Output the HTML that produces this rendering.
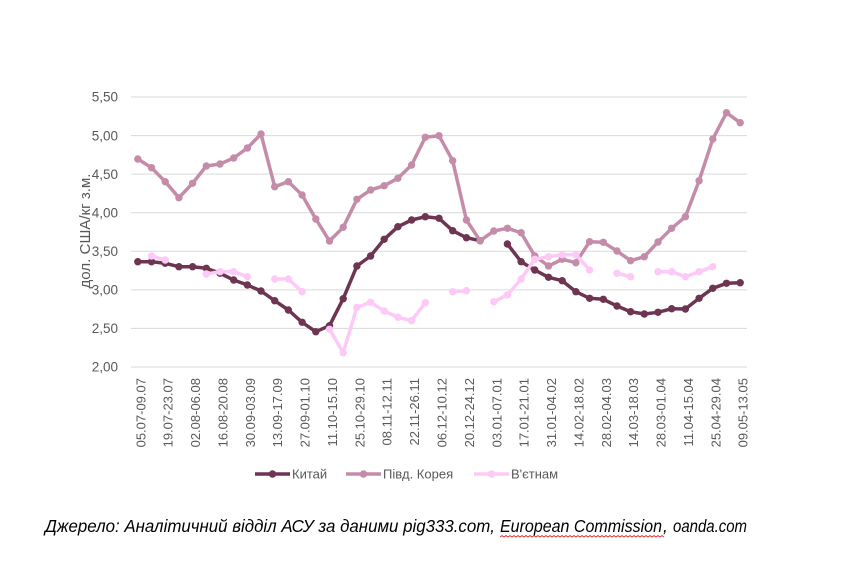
<!DOCTYPE html>
<html><head><meta charset="utf-8"><style>
html,body{margin:0;padding:0;background:#fff;}
svg{display:block;}
</style></head><body>
<svg width="842" height="584" viewBox="0 0 842 584" xmlns="http://www.w3.org/2000/svg">
<rect width="842" height="584" fill="#fff"/>
<g stroke="#d9d9d9" stroke-width="1">
<line x1="131" y1="97" x2="747" y2="97"/>
<line x1="131" y1="135.6" x2="747" y2="135.6"/>
<line x1="131" y1="174.1" x2="747" y2="174.1"/>
<line x1="131" y1="212.7" x2="747" y2="212.7"/>
<line x1="131" y1="251.3" x2="747" y2="251.3"/>
<line x1="131" y1="289.9" x2="747" y2="289.9"/>
<line x1="131" y1="328.4" x2="747" y2="328.4"/>
<line x1="131" y1="367" x2="747" y2="367"/>
</g>
<g font-family="Liberation Sans, sans-serif" font-size="13.5" fill="#595959" text-anchor="end">
<text x="118" y="101.7">5,50</text>
<text x="118" y="140.3">5,00</text>
<text x="118" y="178.8">4,50</text>
<text x="118" y="217.4">4,00</text>
<text x="118" y="256">3,50</text>
<text x="118" y="294.6">3,00</text>
<text x="118" y="333.1">2,50</text>
<text x="118" y="371.7">2,00</text>
</g>
<text transform="translate(90,231) rotate(-90)" font-family="Liberation Sans, sans-serif" font-size="15" fill="#595959" text-anchor="middle" textLength="115" lengthAdjust="spacingAndGlyphs">дол. США/кг з.м.</text>
<g font-family="Liberation Sans, sans-serif" font-size="13" fill="#595959" text-anchor="end">
<text transform="translate(145.3,378) rotate(-90)">05.07-09.07</text>
<text transform="translate(172.7,378) rotate(-90)">19.07-23.07</text>
<text transform="translate(200.1,378) rotate(-90)">02.08-06.08</text>
<text transform="translate(227.5,378) rotate(-90)">16.08-20.08</text>
<text transform="translate(254.9,378) rotate(-90)">30.09-03.09</text>
<text transform="translate(282.2,378) rotate(-90)">13.09-17.09</text>
<text transform="translate(309.6,378) rotate(-90)">27.09-01.10</text>
<text transform="translate(337,378) rotate(-90)">11.10-15.10</text>
<text transform="translate(364.4,378) rotate(-90)">25.10-29.10</text>
<text transform="translate(391.7,378) rotate(-90)">08.11-12.11</text>
<text transform="translate(419.1,378) rotate(-90)">22.11-26.11</text>
<text transform="translate(446.5,378) rotate(-90)">06.12-10.12</text>
<text transform="translate(473.9,378) rotate(-90)">20.12-24.12</text>
<text transform="translate(501.3,378) rotate(-90)">03.01-07.01</text>
<text transform="translate(528.6,378) rotate(-90)">17.01-21.01</text>
<text transform="translate(556,378) rotate(-90)">31.01-04.02</text>
<text transform="translate(583.4,378) rotate(-90)">14.02-18.02</text>
<text transform="translate(610.8,378) rotate(-90)">28.02-04.03</text>
<text transform="translate(638.1,378) rotate(-90)">14.03-18.03</text>
<text transform="translate(665.5,378) rotate(-90)">28.03-01.04</text>
<text transform="translate(692.9,378) rotate(-90)">11.04-15.04</text>
<text transform="translate(720.3,378) rotate(-90)">25.04-29.04</text>
<text transform="translate(747.7,378) rotate(-90)">09.05-13.05</text>
</g>

<!-- China -->
<g stroke="#6d3552" stroke-width="3.5" fill="none" stroke-linejoin="round" stroke-linecap="round">
<polyline points="137.8,261.7 151.5,261.7 165.2,263.3 178.9,266.7 192.6,266.7 206.3,268.3 220,273.3 233.7,280 247.4,285 261,291 274.7,300.7 288.4,310 302.1,322.3 315.8,331.7 329.5,325.7 343.2,298.7 356.9,266 370.6,256 384.2,239.3 397.9,226.7 411.6,220 425.3,216.7 439,218.3 452.7,230.7 466.4,237.7 480.1,240.7"/>
<polyline points="507.4,244 521.1,261.7 534.8,270 548.5,277.3 562.2,280.7 575.9,291.7 589.6,298.3 603.3,299.3 617,306 630.6,311.7 644.3,314 658,312.3 671.7,308.7 685.4,309 699.1,298.3 712.8,288.3 726.5,283.3 740.2,282.7"/>
</g>
<g fill="#6d3552">
<circle cx="137.8" cy="261.7" r="3.7"/><circle cx="151.5" cy="261.7" r="3.7"/><circle cx="165.2" cy="263.3" r="3.7"/><circle cx="178.9" cy="266.7" r="3.7"/><circle cx="192.6" cy="266.7" r="3.7"/><circle cx="206.3" cy="268.3" r="3.7"/><circle cx="220" cy="273.3" r="3.7"/><circle cx="233.7" cy="280" r="3.7"/><circle cx="247.4" cy="285" r="3.7"/><circle cx="261" cy="291" r="3.7"/><circle cx="274.7" cy="300.7" r="3.7"/><circle cx="288.4" cy="310" r="3.7"/><circle cx="302.1" cy="322.3" r="3.7"/><circle cx="315.8" cy="331.7" r="3.7"/><circle cx="329.5" cy="325.7" r="3.7"/><circle cx="343.2" cy="298.7" r="3.7"/><circle cx="356.9" cy="266" r="3.7"/><circle cx="370.6" cy="256" r="3.7"/><circle cx="384.2" cy="239.3" r="3.7"/><circle cx="397.9" cy="226.7" r="3.7"/><circle cx="411.6" cy="220" r="3.7"/><circle cx="425.3" cy="216.7" r="3.7"/><circle cx="439" cy="218.3" r="3.7"/><circle cx="452.7" cy="230.7" r="3.7"/><circle cx="466.4" cy="237.7" r="3.7"/><circle cx="480.1" cy="240.7" r="3.7"/>
<circle cx="507.4" cy="244" r="3.7"/><circle cx="521.1" cy="261.7" r="3.7"/><circle cx="534.8" cy="270" r="3.7"/><circle cx="548.5" cy="277.3" r="3.7"/><circle cx="562.2" cy="280.7" r="3.7"/><circle cx="575.9" cy="291.7" r="3.7"/><circle cx="589.6" cy="298.3" r="3.7"/><circle cx="603.3" cy="299.3" r="3.7"/><circle cx="617" cy="306" r="3.7"/><circle cx="630.6" cy="311.7" r="3.7"/><circle cx="644.3" cy="314" r="3.7"/><circle cx="658" cy="312.3" r="3.7"/><circle cx="671.7" cy="308.7" r="3.7"/><circle cx="685.4" cy="309" r="3.7"/><circle cx="699.1" cy="298.3" r="3.7"/><circle cx="712.8" cy="288.3" r="3.7"/><circle cx="726.5" cy="283.3" r="3.7"/><circle cx="740.2" cy="282.7" r="3.7"/>
</g>

<!-- Korea -->
<g stroke="#c58ca9" stroke-width="3.5" fill="none" stroke-linejoin="round" stroke-linecap="round">
<polyline points="137.8,159 151.5,167.7 165.2,181.7 178.9,197.7 192.6,183.3 206.3,166 220,164 233.7,158 247.4,148 261,134 274.7,186.7 288.4,181.7 302.1,195 315.8,219 329.5,241 343.2,227.3 356.9,199.3 370.6,190 384.2,185.7 397.9,178.3 411.6,165 425.3,137.3 439,135.7 452.7,160.7 466.4,220 480.1,240.7 493.8,231 507.4,228.3 521.1,232.7 534.8,256 548.5,266 562.2,259.3 575.9,262.7 589.6,241.7 603.3,242.3 617,251 630.6,260.7 644.3,256.7 658,242 671.7,228.3 685.4,216.7 699.1,180.7 712.8,139 726.5,112.7 740.2,122.7"/>
</g>
<g fill="#c58ca9">
<circle cx="137.8" cy="159" r="3.7"/><circle cx="151.5" cy="167.7" r="3.7"/><circle cx="165.2" cy="181.7" r="3.7"/><circle cx="178.9" cy="197.7" r="3.7"/><circle cx="192.6" cy="183.3" r="3.7"/><circle cx="206.3" cy="166" r="3.7"/><circle cx="220" cy="164" r="3.7"/><circle cx="233.7" cy="158" r="3.7"/><circle cx="247.4" cy="148" r="3.7"/><circle cx="261" cy="134" r="3.7"/><circle cx="274.7" cy="186.7" r="3.7"/><circle cx="288.4" cy="181.7" r="3.7"/><circle cx="302.1" cy="195" r="3.7"/><circle cx="315.8" cy="219" r="3.7"/><circle cx="329.5" cy="241" r="3.7"/><circle cx="343.2" cy="227.3" r="3.7"/><circle cx="356.9" cy="199.3" r="3.7"/><circle cx="370.6" cy="190" r="3.7"/><circle cx="384.2" cy="185.7" r="3.7"/><circle cx="397.9" cy="178.3" r="3.7"/><circle cx="411.6" cy="165" r="3.7"/><circle cx="425.3" cy="137.3" r="3.7"/><circle cx="439" cy="135.7" r="3.7"/><circle cx="452.7" cy="160.7" r="3.7"/><circle cx="466.4" cy="220" r="3.7"/><circle cx="480.1" cy="240.7" r="3.7"/><circle cx="493.8" cy="231" r="3.7"/><circle cx="507.4" cy="228.3" r="3.7"/><circle cx="521.1" cy="232.7" r="3.7"/><circle cx="534.8" cy="256" r="3.7"/><circle cx="548.5" cy="266" r="3.7"/><circle cx="562.2" cy="259.3" r="3.7"/><circle cx="575.9" cy="262.7" r="3.7"/><circle cx="589.6" cy="241.7" r="3.7"/><circle cx="603.3" cy="242.3" r="3.7"/><circle cx="617" cy="251" r="3.7"/><circle cx="630.6" cy="260.7" r="3.7"/><circle cx="644.3" cy="256.7" r="3.7"/><circle cx="658" cy="242" r="3.7"/><circle cx="671.7" cy="228.3" r="3.7"/><circle cx="685.4" cy="216.7" r="3.7"/><circle cx="699.1" cy="180.7" r="3.7"/><circle cx="712.8" cy="139" r="3.7"/><circle cx="726.5" cy="112.7" r="3.7"/><circle cx="740.2" cy="122.7" r="3.7"/>
</g>

<!-- Vietnam -->
<g stroke="#fdc9f6" stroke-width="3.5" fill="none" stroke-linejoin="round" stroke-linecap="round">
<polyline points="151.5,256 165.2,260"/>
<polyline points="206.3,274 220,271.7 233.7,271.7 247.4,276.7"/>
<polyline points="274.7,279 288.4,279 302.1,291.7"/>
<polyline points="329.5,329.3 343.2,352.7 356.9,307.3 370.6,302.3 384.2,311 397.9,317.3 411.6,320.7 425.3,302.7"/>
<polyline points="452.7,291.7 466.4,290.7"/>
<polyline points="493.8,301.7 507.4,295 521.1,279 534.8,259.3 548.5,256.7 562.2,254.7 575.9,254.7 589.6,270"/>
<polyline points="617,273.3 630.6,276.7"/>
<polyline points="658,271.7 671.7,271.7 685.4,276.7 699.1,271.7 712.8,266.7"/>
</g>
<g fill="#fdc9f6">
<circle cx="151.5" cy="256" r="3.7"/><circle cx="165.2" cy="260" r="3.7"/>
<circle cx="206.3" cy="274" r="3.7"/><circle cx="220" cy="271.7" r="3.7"/><circle cx="233.7" cy="271.7" r="3.7"/><circle cx="247.4" cy="276.7" r="3.7"/>
<circle cx="274.7" cy="279" r="3.7"/><circle cx="288.4" cy="279" r="3.7"/><circle cx="302.1" cy="291.7" r="3.7"/>
<circle cx="329.5" cy="329.3" r="3.7"/><circle cx="343.2" cy="352.7" r="3.7"/><circle cx="356.9" cy="307.3" r="3.7"/><circle cx="370.6" cy="302.3" r="3.7"/><circle cx="384.2" cy="311" r="3.7"/><circle cx="397.9" cy="317.3" r="3.7"/><circle cx="411.6" cy="320.7" r="3.7"/><circle cx="425.3" cy="302.7" r="3.7"/>
<circle cx="452.7" cy="291.7" r="3.7"/><circle cx="466.4" cy="290.7" r="3.7"/>
<circle cx="493.8" cy="301.7" r="3.7"/><circle cx="507.4" cy="295" r="3.7"/><circle cx="521.1" cy="279" r="3.7"/><circle cx="534.8" cy="259.3" r="3.7"/><circle cx="548.5" cy="256.7" r="3.7"/><circle cx="562.2" cy="254.7" r="3.7"/><circle cx="575.9" cy="254.7" r="3.7"/><circle cx="589.6" cy="270" r="3.7"/>
<circle cx="617" cy="273.3" r="3.7"/><circle cx="630.6" cy="276.7" r="3.7"/>
<circle cx="658" cy="271.7" r="3.7"/><circle cx="671.7" cy="271.7" r="3.7"/><circle cx="685.4" cy="276.7" r="3.7"/><circle cx="699.1" cy="271.7" r="3.7"/><circle cx="712.8" cy="266.7" r="3.7"/>
</g>

<!-- Legend -->
<g stroke-width="3.5">
<line x1="255" y1="474" x2="290" y2="474" stroke="#6d3552"/>
<line x1="346" y1="474" x2="381" y2="474" stroke="#c58ca9"/>
<line x1="474" y1="474" x2="509" y2="474" stroke="#fdc9f6"/>
</g>
<circle cx="272.5" cy="474" r="3.7" fill="#6d3552"/>
<circle cx="363.5" cy="474" r="3.7" fill="#c58ca9"/>
<circle cx="491.5" cy="474" r="3.7" fill="#fdc9f6"/>
<g font-family="Liberation Sans, sans-serif" font-size="13" fill="#595959">
<text x="292" y="478.5">Китай</text>
<text x="383" y="478.5">Півд. Корея</text>
<text x="511" y="478.5">В'єтнам</text>
</g>

<!-- Source -->
<g font-family="Liberation Sans, sans-serif" font-size="17.5" font-style="italic" fill="#000">
<text x="45" y="532" textLength="450" lengthAdjust="spacingAndGlyphs">Джерело: Аналітичний відділ АСУ за даними pig333.com,</text>
<text x="500" y="532" textLength="162" lengthAdjust="spacingAndGlyphs">European Commission</text>
<text x="663" y="532">,</text>
<text x="673" y="532" textLength="74" lengthAdjust="spacingAndGlyphs">oanda.com</text>
</g>
<path d="M500,537 l2,-1.5 l2,1.5 l2,-1.5 l2,1.5 l2,-1.5 l2,1.5 l2,-1.5 l2,1.5 l2,-1.5 l2,1.5 l2,-1.5 l2,1.5 l2,-1.5 l2,1.5 l2,-1.5 l2,1.5 l2,-1.5 l2,1.5 l2,-1.5 l2,1.5 l2,-1.5 l2,1.5 l2,-1.5 l2,1.5 l2,-1.5 l2,1.5 l2,-1.5 l2,1.5 l2,-1.5 l2,1.5 l2,-1.5 l2,1.5 l2,-1.5 l2,1.5 l2,-1.5 l2,1.5 l2,-1.5 l2,1.5 l2,-1.5 l2,1.5 l2,-1.5 l2,1.5 l2,-1.5 l2,1.5 l2,-1.5 l2,1.5 l2,-1.5 l2,1.5 l2,-1.5 l2,1.5 l2,-1.5 l2,1.5 l2,-1.5 l2,1.5 l2,-1.5 l2,1.5 l2,-1.5 l2,1.5 l2,-1.5 l2,1.5 l2,-1.5 l2,1.5 l2,-1.5 l2,1.5 l2,-1.5 l2,1.5 l2,-1.5 l2,1.5 l2,-1.5 l2,1.5 l2,-1.5 l2,1.5 l2,-1.5 l2,1.5 l2,-1.5 l2,1.5 l2,-1.5 l2,1.5 l2,-1.5 l2,1.5 l2,-1.5 l2,1.5" stroke="#e03030" stroke-width="0.9" fill="none"/>
</svg>
</body></html>
